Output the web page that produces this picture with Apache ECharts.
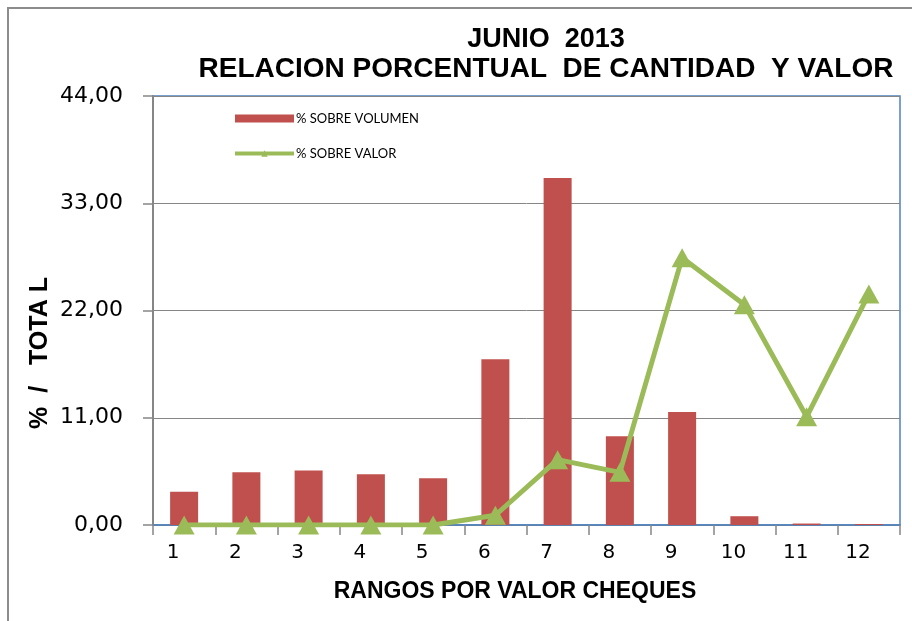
<!DOCTYPE html>
<html>
<head>
<meta charset="utf-8">
<script src="https://cdn.jsdelivr.net/npm/echarts@6/dist/echarts.min.js"></script>
<style>
  html, body { margin: 0; padding: 0; background: #fff; }
  #main { width: 912px; height: 621px; }
</style>
</head>
<body>
<div id="main"></div>
<script>
// datos
var rangos = ['1', '2', '3', '4', '5', '6', '7', '8', '9', '10', '11', '12'];
var volumen = [3.4, 5.4, 5.6, 5.2, 4.8, 17.0, 35.6, 9.1, 11.6, 0.9, 0.15, 0.1];
var valor = [0, 0, 0, 0, 0, 1.0, 6.7, 5.4, 27.4, 22.6, 11.1, 23.7];
var yTicks = [0, 11, 22, 33, 44];

var chart = echarts.init(document.getElementById('main'));

var option = {
    animation: false,
    graphic: [
        // marco exterior
        { type: 'rect', shape: { x: 8, y: 8, width: 1000, height: 1000 },
          style: { fill: 'none', stroke: '#8c8c8c', lineWidth: 2 }, silent: true },
        { type: 'text', x: 546, y: 40,
          style: { text: 'JUNIO  2013', textAlign: 'center', textVerticalAlign: 'middle',
                   font: 'bold 27px "Liberation Sans", Arial', fill: '#000' } },
        { type: 'text', x: 546, y: 69,
          style: { text: 'RELACION PORCENTUAL  DE CANTIDAD  Y VALOR', textAlign: 'center', textVerticalAlign: 'middle',
                   font: 'bold 28px "Liberation Sans", Arial', fill: '#000' } },
        { type: 'text', x: 40, y: 353, rotation: Math.PI / 2,
          style: { text: '%  /   TOTA L', textAlign: 'center', textVerticalAlign: 'middle',
                   font: 'bold 25px "Liberation Sans", Arial', fill: '#000' } },
        { type: 'text', x: 515, y: 592,
          style: { text: 'RANGOS POR VALOR CHEQUES', textAlign: 'center', textVerticalAlign: 'middle',
                   font: 'bold 23px "Liberation Sans", Arial', fill: '#000' } }
    ],
    legend: {
        orient: 'vertical',
        left: 228,
        top: 107,
        itemWidth: 59,
        itemHeight: 8,
        itemGap: 22,
        textStyle: { fontFamily: 'Lato', fontSize: 13, color: '#000', padding: [0, 0, 0, -3] },
        data: [
            { name: '% SOBRE VOLUMEN', icon: 'rect' },
            { name: '% SOBRE VALOR', lineStyle: { width: 4 } }
        ]
    },
    grid: {
        left: 153,
        right: 12,
        top: 96,
        bottom: 96,
        show: true,
        borderColor: '#4F81BD',
        borderWidth: 1.5
    },
    xAxis: {
        type: 'category',
        data: rangos,
        axisLine: { lineStyle: { color: '#4F81BD', width: 1.5 } },
        axisTick: { show: true, length: 10, lineStyle: { color: '#868686', width: 1.5 } },
        axisLabel: {
            fontFamily: 'DejaVu Sans',
            fontSize: 20,
            color: '#000',
            margin: 18,
            padding: [0, 22, 0, 0]
        }
    },
    yAxis: {
        type: 'value',
        min: yTicks[0],
        max: yTicks[yTicks.length - 1],
        interval: 11,
        axisLine: { show: true, lineStyle: { color: '#868686', width: 2 } },
        axisTick: { show: true, length: 10, lineStyle: { color: '#868686', width: 1.5 } },
        splitLine: { lineStyle: { color: '#868686', width: 1 } },
        axisLabel: {
            fontFamily: 'DejaVu Sans',
            fontSize: 22,
            color: '#000',
            margin: 30,
            formatter: function (v) { return v.toFixed(2).replace('.', ','); }
        }
    },
    series: [
        {
            name: '% SOBRE VOLUMEN',
            type: 'bar',
            data: volumen,
            barWidth: '45%',
            itemStyle: { color: '#C0504D' }
        },
        {
            name: '% SOBRE VALOR',
            type: 'line',
            data: valor,
            z: 5,
            symbol: 'triangle',
            symbolSize: [21, 19],
            lineStyle: { color: '#9BBB59', width: 5 },
            itemStyle: { color: '#9BBB59' }
        }
    ]
};

chart.setOption(option);
</script>
</body>
</html>
